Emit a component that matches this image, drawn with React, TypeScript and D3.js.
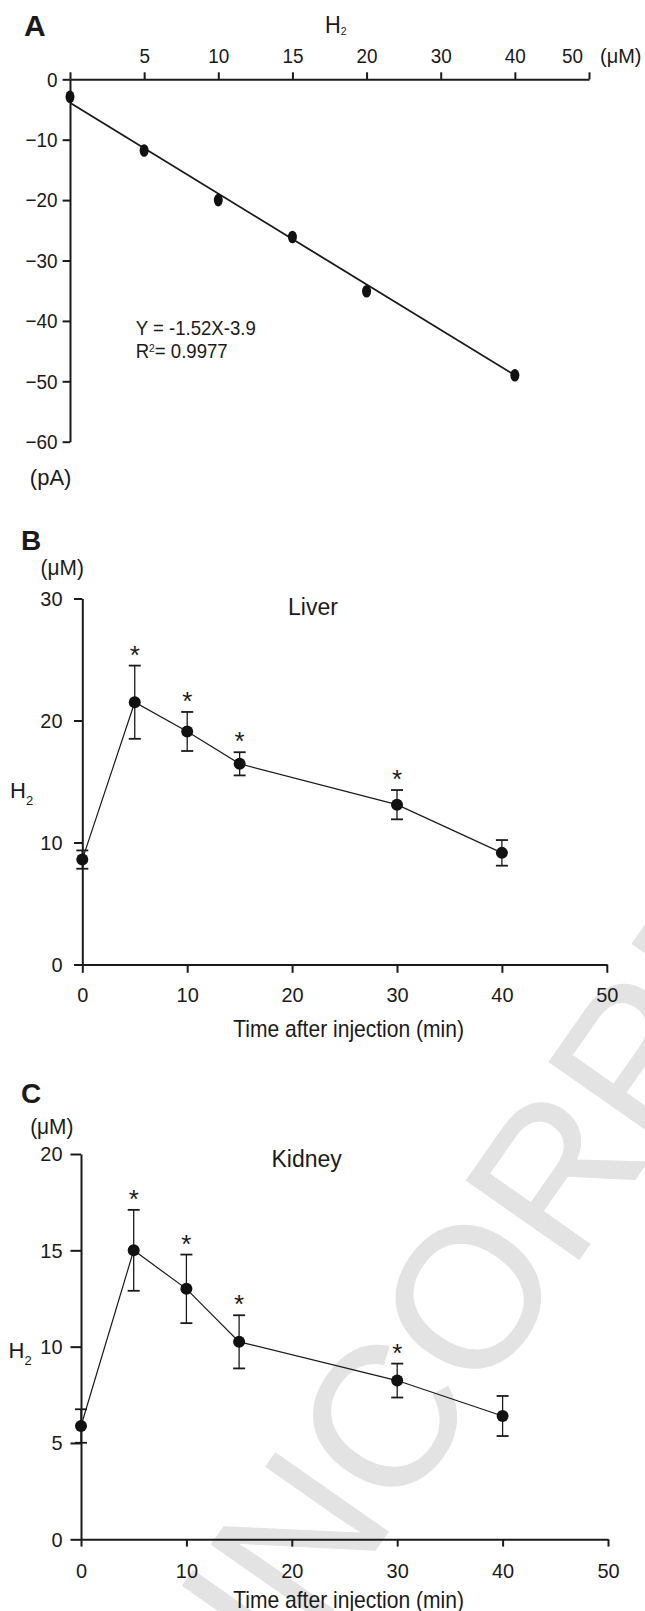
import React, { useEffect, useRef } from 'react';
import * as d3 from 'd3';

const W = 645;
const H = 1611;
const FONT = '"Liberation Sans", Arial, sans-serif';
const INK = '#1a1a1a';

// Panel A - standard curve
const stdTicks = ['0', '5', '10', '15', '20', '30', '40', '50'];
const stdX = ['0', '5', '10', '15', '20', '40'];
const stdCurrent = [-2.9, -11.8, -20.0, -26.1, -35.1, -49.0];
const fitX = ['0', '40'];
const fitY = [-3.9, -49.0];
const currentTicks = [0, -10, -20, -30, -40, -50, -60];

// Panels B, C - time course
const times = [0, 5, 10, 15, 30, 40];
const timeTicks = [0, 10, 20, 30, 40, 50];
const liverMean = [8.6, 21.5, 19.1, 16.45, 13.1, 9.15];
const liverErr = [0.75, 3.0, 1.6, 0.95, 1.2, 1.05];
const liverSig = [false, true, true, true, true, false];
const liverTicks = [0, 10, 20, 30];
const kidneyMean = [5.88, 15.0, 13.0, 10.25, 8.24, 6.4];
const kidneyErr = [0.87, 2.1, 1.78, 1.38, 0.88, 1.04];
const kidneySig = [false, true, true, true, true, false];
const kidneyTicks = [0, 5, 10, 15, 20];

function label(g, x, y, str, size, sx = 1, anchor = 'start', weight = 'normal') {
  return g
    .append('text')
    .attr('transform', `translate(${x},${y}) scale(${sx},1)`)
    .attr('text-anchor', anchor)
    .attr('dy', '0.35em')
    .style('font-size', size + 'px')
    .style('font-family', FONT)
    .style('font-weight', weight)
    .style('fill', INK)
    .text(str);
}

function h2Label(g, x, y, size, sx, subSize, subDy) {
  const t = label(g, x, y, 'H', size, sx);
  t.append('tspan').attr('dy', subDy).style('font-size', subSize + 'px').text('2');
}

function styleAxis(axisG, fontSize, sx) {
  axisG.select('.domain').attr('stroke', INK).attr('stroke-width', 2);
  axisG.selectAll('.tick line').attr('stroke', INK).attr('stroke-width', 2);
  axisG
    .selectAll('.tick text')
    .style('font-size', fontSize + 'px')
    .style('font-family', FONT)
    .style('fill', INK)
    .attr('transform', `scale(${sx},1)`)
    .attr('x', function () {
      const v = this.getAttribute('x');
      return v === null ? null : +v / sx;
    });
}

function drawPanelA(svg) {
  const g = svg.append('g');
  const x = d3.scalePoint().domain(stdTicks).range([70, 589]);
  const y = d3.scaleLinear().domain([-60, 0]).range([441.7, 79.3]);

  const xAxis = g
    .append('g')
    .attr('transform', `translate(0,${y(0)})`)
    .call(
      d3.axisTop(x).tickSize(7).tickSizeOuter(0).tickPadding(9.5)
        .tickFormat(d => (d === '0' || d === '50' ? '' : d))
    );
  styleAxis(xAxis, 21, 0.9);

  const yAxis = g
    .append('g')
    .attr('transform', `translate(${x('0')},0)`)
    .call(d3.axisLeft(y).tickValues(currentTicks).tickSize(7.4).tickSizeOuter(0).tickPadding(5));
  styleAxis(yAxis, 21, 0.9);

  label(g, 24, 25, 'A', 30, 1, 'start', 'bold');
  h2Label(g, 325, 25, 23, 0.95, 11, 2);
  label(g, 562, 56, '50', 21, 0.9);
  label(g, 600, 56, '(\u03bcM)', 21, 0.95);
  label(g, 50.6, 477, '(pA)', 22, 1, 'middle');

  const line = d3.line().x(d => x(d[0])).y(d => y(d[1]));
  g.append('path')
    .datum(fitX.map((v, i) => [v, fitY[i]]))
    .attr('fill', 'none')
    .attr('stroke', INK)
    .attr('stroke-width', 1.8)
    .attr('d', line);

  g.selectAll('ellipse')
    .data(stdX.map((v, i) => [v, stdCurrent[i]]))
    .join('ellipse')
    .attr('cx', d => x(d[0]))
    .attr('cy', d => y(d[1]))
    .attr('rx', 4.5)
    .attr('ry', 6.3)
    .attr('fill', '#111');

  label(g, 135.7, 328, 'Y = -1.52X-3.9', 20, 0.93);
  const r2 = label(g, 135.7, 351, 'R', 20, 0.93);
  r2.append('tspan').attr('dy', -6).style('font-size', '11px').text('2');
  r2.append('tspan').attr('dy', 6).text('= 0.9977');
}

function drawTimePanel(svg, o) {
  const g = svg.append('g');
  const x = d3.scaleLinear().domain([0, 50]).range(o.xRange);
  const y = d3.scaleLinear().domain(o.yDomain).range(o.yRange);

  const xAxis = g
    .append('g')
    .attr('transform', `translate(0,${y(0)})`)
    .call(d3.axisBottom(x).tickValues(timeTicks).tickSize(o.xTick).tickSizeOuter(0).tickPadding(o.xPad));
  styleAxis(xAxis, 21, 0.95);

  const yAxis = g
    .append('g')
    .attr('transform', `translate(${x(0)},0)`)
    .call(d3.axisLeft(y).tickValues(o.yTicks).tickSize(o.yTick).tickSizeOuter(0).tickPadding(o.yPad));
  styleAxis(yAxis, 21, 0.95);

  label(g, 21, o.letterY, o.letter, 28, 1, 'start', 'bold');
  label(g, o.unitX, o.unitY, '(\u03bcM)', 22, 0.95, 'middle');
  label(g, o.titleX, o.titleY, o.title, 23, 1);
  h2Label(g, o.h2X, o.h2Y, 22, 1, 13, 7);
  label(g, 348.6, o.xTitleY, 'Time after injection (min)', 23, 0.915, 'middle');

  const pts = times.map((t, i) => ({ t, m: o.mean[i], e: o.err[i], s: o.sig[i] }));

  const line = d3.line().x(d => x(d.t)).y(d => y(d.m));
  g.append('path')
    .datum(pts)
    .attr('fill', 'none')
    .attr('stroke', INK)
    .attr('stroke-width', 1.2)
    .attr('d', line);

  const bars = g.append('g').attr('stroke', INK);
  pts.forEach(d => {
    const cx = x(d.t);
    bars.append('line').attr('x1', cx).attr('x2', cx).attr('y1', y(d.m + d.e)).attr('y2', y(d.m - d.e)).attr('stroke-width', 1.3);
    [d.m + d.e, d.m - d.e].forEach(v => {
      bars.append('line').attr('x1', cx - 6).attr('x2', cx + 6).attr('y1', y(v)).attr('y2', y(v)).attr('stroke-width', 1.8);
    });
  });

  g.selectAll('circle')
    .data(pts)
    .join('circle')
    .attr('cx', d => x(d.t))
    .attr('cy', d => y(d.m))
    .attr('r', 6)
    .attr('fill', '#111');

  g.selectAll('text.star')
    .data(pts.filter(d => d.s))
    .join('text')
    .attr('class', 'star')
    .attr('x', d => x(d.t))
    .attr('y', d => y(d.m + d.e) - 17 + 15)
    .attr('text-anchor', 'middle')
    .style('font-size', '26px')
    .style('font-family', FONT)
    .style('fill', INK)
    .text('*');
}

function App() {
  const ref = useRef(null);

  useEffect(() => {
    const svg = d3.select(ref.current);
    svg.selectAll('*').remove();

    // proof watermark, behind the plots
    svg.append('text')
      .attr('transform', 'translate(232,1755) rotate(-55)')
      .style('font-size', '200px')
      .style('font-family', FONT)
      .style('fill', '#e3e3e3')
      .style('stroke', '#e3e3e3')
      .style('stroke-width', 1)
      .text('UNCORRECTED PROOF');

    drawPanelA(svg);

    drawTimePanel(svg, {
      xRange: [82.3, 606.8],
      yDomain: [0, 30],
      yRange: [964.5, 598.5],
      yTicks: liverTicks,
      mean: liverMean,
      err: liverErr,
      sig: liverSig,
      xTick: 8.3,
      xPad: 14.5,
      yTick: 8.3,
      yPad: 11.5,
      letter: 'B',
      letterY: 540,
      unitX: 62.2,
      unitY: 567,
      title: 'Liver',
      titleX: 288,
      titleY: 607,
      h2X: 10,
      h2Y: 790,
      xTitleY: 1029,
    });

    drawTimePanel(svg, {
      xRange: [81, 608],
      yDomain: [0, 20],
      yRange: [1539.3, 1154],
      yTicks: kidneyTicks,
      mean: kidneyMean,
      err: kidneyErr,
      sig: kidneySig,
      xTick: 7.3,
      xPad: 16.5,
      yTick: 10.5,
      yPad: 8,
      letter: 'C',
      letterY: 1093,
      unitX: 51.8,
      unitY: 1126,
      title: 'Kidney',
      titleX: 271.5,
      titleY: 1159,
      h2X: 8.5,
      h2Y: 1350,
      xTitleY: 1600,
    });
  }, []);

  return (
    <svg
      ref={ref}
      width={W}
      height={H}
      style={{ position: 'absolute', left: 0, top: 0, background: '#fff' }}
    />
  );
}

export default App;
